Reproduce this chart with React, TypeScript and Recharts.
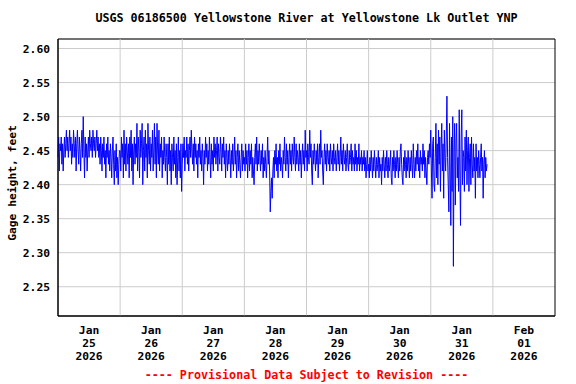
import {
  LineChart,
  Line,
  XAxis,
  YAxis,
  CartesianGrid,
  ReferenceLine,
  ReferenceArea,
} from "recharts";

// gage height, feet, read every 15 minutes from the plot
const jan25 = [
  2.44, 2.47, 2.42, 2.46, 2.45, 2.47, 2.43, 2.46, 2.42, 2.45, 2.47, 2.44,
  2.46, 2.48, 2.45, 2.47, 2.44, 2.46, 2.48, 2.45, 2.47, 2.43, 2.46, 2.44,
  2.48, 2.46, 2.44, 2.47, 2.42, 2.46, 2.48, 2.45, 2.43, 2.47, 2.45, 2.42,
  2.46, 2.48, 2.44, 2.5, 2.45, 2.41, 2.47, 2.44, 2.46, 2.42, 2.45, 2.47,
  2.44, 2.48, 2.46, 2.45, 2.47, 2.44, 2.48, 2.46, 2.45, 2.47, 2.44, 2.46,
  2.48, 2.45, 2.47, 2.44, 2.46, 2.43, 2.47, 2.45, 2.42, 2.46, 2.44, 2.47,
  2.43, 2.45, 2.41, 2.46, 2.44, 2.47, 2.43, 2.45, 2.42, 2.46, 2.44, 2.41,
  2.45, 2.47, 2.43, 2.4, 2.45, 2.42, 2.46, 2.41, 2.44, 2.4, 2.43, 2.45,
];
const jan26 = [
  2.45, 2.42, 2.47, 2.44, 2.46, 2.41, 2.48, 2.43, 2.46, 2.42, 2.47, 2.45,
  2.43, 2.46, 2.41, 2.47, 2.44, 2.48, 2.42, 2.46, 2.4, 2.45, 2.47, 2.43,
  2.46, 2.44, 2.49, 2.42, 2.47, 2.45, 2.41, 2.48, 2.44, 2.46, 2.49, 2.4,
  2.45, 2.47, 2.42, 2.48, 2.44, 2.46, 2.41, 2.49, 2.45, 2.43, 2.47, 2.42,
  2.46, 2.44, 2.48, 2.42, 2.45, 2.49, 2.43, 2.47, 2.41, 2.49, 2.45, 2.43,
  2.48, 2.42, 2.46, 2.44, 2.47, 2.41, 2.45, 2.43, 2.47, 2.44, 2.42, 2.46,
  2.44, 2.4, 2.46, 2.43, 2.47, 2.42, 2.45, 2.4, 2.46, 2.44, 2.42, 2.47,
  2.43, 2.45, 2.41, 2.46, 2.4, 2.44, 2.47, 2.42, 2.45, 2.41, 2.46, 2.39,
];
const jan27 = [
  2.43, 2.46, 2.44, 2.47, 2.42, 2.45, 2.44, 2.47, 2.43, 2.46, 2.42, 2.45,
  2.47, 2.44, 2.48, 2.45, 2.43, 2.46, 2.42, 2.47, 2.44, 2.46, 2.43, 2.45,
  2.41, 2.46, 2.44, 2.47, 2.43, 2.45, 2.42, 2.46, 2.44, 2.4, 2.45, 2.43,
  2.47, 2.44, 2.46, 2.42, 2.45, 2.43, 2.47, 2.44, 2.41, 2.46, 2.43, 2.45,
  2.42, 2.47, 2.44, 2.46, 2.43, 2.45, 2.47, 2.42, 2.46, 2.44, 2.43, 2.47,
  2.45, 2.42, 2.46, 2.44, 2.47, 2.43, 2.45, 2.41, 2.46, 2.44, 2.42, 2.45,
  2.43, 2.46, 2.44, 2.41, 2.45, 2.43, 2.46, 2.42, 2.44, 2.47, 2.43, 2.45,
  2.41, 2.44, 2.46, 2.42, 2.45, 2.43, 2.41, 2.44, 2.46, 2.42, 2.45, 2.43,
];
const jan28 = [
  2.44, 2.42, 2.46, 2.43, 2.45, 2.41, 2.44, 2.46, 2.42, 2.45, 2.43, 2.46,
  2.41, 2.44, 2.42, 2.4, 2.44, 2.46, 2.43, 2.47, 2.42, 2.45, 2.43, 2.46,
  2.44, 2.42, 2.45, 2.43, 2.46, 2.41, 2.44, 2.42, 2.45, 2.43, 2.41, 2.44,
  2.47, 2.43, 2.45, 2.42, 2.36, 2.39, 2.41, 2.38, 2.42, 2.44, 2.41, 2.45,
  2.43, 2.46, 2.42, 2.44, 2.41, 2.45, 2.43, 2.46, 2.42, 2.44, 2.43, 2.41,
  2.45, 2.43, 2.47, 2.44, 2.42, 2.46, 2.43, 2.45, 2.41, 2.44, 2.46, 2.43,
  2.45, 2.42, 2.46, 2.44, 2.43, 2.47, 2.44, 2.42, 2.46, 2.43, 2.45, 2.44,
  2.42, 2.46, 2.43, 2.45, 2.41, 2.44, 2.46, 2.43, 2.45, 2.42, 2.48, 2.44,
];
const jan29 = [
  2.45, 2.42, 2.46, 2.44, 2.43, 2.48, 2.44, 2.46, 2.42, 2.4, 2.45, 2.43,
  2.46, 2.44, 2.42, 2.45, 2.43, 2.46, 2.41, 2.44, 2.46, 2.43, 2.48, 2.44,
  2.45, 2.42, 2.4, 2.44, 2.46, 2.43, 2.45, 2.42, 2.46, 2.44, 2.43, 2.45,
  2.42, 2.46, 2.44, 2.43, 2.45, 2.42, 2.46, 2.44, 2.43, 2.45, 2.42, 2.44,
  2.46, 2.43, 2.45, 2.42, 2.44, 2.47, 2.43, 2.45, 2.42, 2.46, 2.44, 2.43,
  2.45, 2.42, 2.44, 2.46, 2.43, 2.42, 2.45, 2.43, 2.44, 2.46, 2.42, 2.45,
  2.43, 2.44, 2.42, 2.46, 2.43, 2.45, 2.42, 2.44, 2.43, 2.46, 2.42, 2.44,
  2.43, 2.45, 2.42, 2.44, 2.43, 2.45, 2.42, 2.44, 2.41, 2.43, 2.45, 2.42,
];
const jan30 = [
  2.43, 2.41, 2.44, 2.42, 2.45, 2.43, 2.41, 2.44, 2.42, 2.45, 2.43, 2.41,
  2.44, 2.42, 2.43, 2.45, 2.41, 2.44, 2.42, 2.43, 2.4, 2.44, 2.42, 2.45,
  2.43, 2.41, 2.44, 2.42, 2.45, 2.43, 2.41, 2.44, 2.42, 2.43, 2.45, 2.41,
  2.4, 2.44, 2.42, 2.45, 2.43, 2.41, 2.44, 2.42, 2.45, 2.43, 2.41, 2.44,
  2.42, 2.45, 2.46, 2.43, 2.41, 2.4, 2.44, 2.42, 2.45, 2.43, 2.41, 2.44,
  2.42, 2.45, 2.43, 2.41, 2.44, 2.42, 2.45, 2.43, 2.41, 2.46, 2.43, 2.41,
  2.44, 2.42, 2.45, 2.43, 2.46, 2.42, 2.44, 2.41, 2.45, 2.43, 2.44, 2.42,
  2.46, 2.43, 2.45, 2.41, 2.44, 2.42, 2.4, 2.44, 2.45, 2.43, 2.46, 2.44,
];
const jan31 = [
  2.48, 2.42, 2.38, 2.46, 2.47, 2.4, 2.39,
  2.44, 2.49, 2.41, 2.46, 2.4, 2.48, 2.43, 2.47, 2.39, 2.45, 2.49, 2.42,
  2.46, 2.38, 2.48, 2.44, 2.42,
  2.47, 2.53, 2.44, 2.4,
  2.36, 2.49, 2.42, 2.34, 2.47, 2.39, 2.5, 2.28, 2.45, 2.49,
  2.37, 2.46, 2.49, 2.41, 2.44, 2.39,
  2.51, 2.42, 2.34, 2.47, 2.51, 2.4, 2.45,
  2.44, 2.39, 2.47, 2.42, 2.48, 2.4, 2.45, 2.47, 2.39, 2.44, 2.46, 2.4,
  2.47, 2.43, 2.41, 2.46, 2.42,
  2.44, 2.38, 2.46, 2.42, 2.44, 2.41, 2.45, 2.43, 2.41, 2.44, 2.46, 2.42,
  2.44, 2.38, 2.43, 2.45, 2.41, 2.44, 2.42, 2.43,
];
const days = [jan25, jan26, jan27, jan28, jan29, jan30, jan31];

const tickMonths = ["Jan", "Jan", "Jan", "Jan", "Jan", "Jan", "Jan", "Feb"];
const tickDays = ["25", "26", "27", "28", "29", "30", "31", "01"];
const tickYears = ["2026", "2026", "2026", "2026", "2026", "2026", "2026", "2026"];
const yTicks = [2.25, 2.3, 2.35, 2.4, 2.45, 2.5, 2.55, 2.6];

// t is in days since Jan 25 00:00
const data = days.flatMap((vals, d) =>
  vals.map((v, i) => ({ t: d + i / 96, gage: v }))
);
const xTicks = tickDays.map((_, i) => i + 0.5);
const dayLines = [1, 2, 3, 4, 5, 6, 7];

const FONT = "'DejaVu Sans Mono', 'Liberation Mono', monospace";

// eslint-disable-next-line @typescript-eslint/no-explicit-any
const DateTick = ({ x, y, payload }: any) => {
  const i = Math.round(payload.value - 0.5);
  return (
    <text
      x={x}
      y={y}
      textAnchor="middle"
      fill="#000"
      fontFamily={FONT}
      fontWeight="bold"
      fontSize={11.3}
    >
      <tspan x={x} dy={10}>{tickMonths[i]}</tspan>
      <tspan x={x} dy={13}>{tickDays[i]}</tspan>
      <tspan x={x} dy={13}>{tickYears[i]}</tspan>
    </text>
  );
};

export default function App() {
  return (
    <div
      style={{
        position: "fixed",
        left: 0,
        top: 0,
        width: 576,
        height: 384,
        background: "#fff",
        fontFamily: FONT,
        fontWeight: "bold",
      }}
    >
      <div
        style={{
          position: "absolute",
          left: 58,
          width: 497,
          top: 11,
          textAlign: "center",
          fontSize: 11.7,
          color: "#000",
        }}
      >
        USGS 06186500 Yellowstone River at Yellowstone Lk Outlet YNP
      </div>
      <div
        style={{
          position: "absolute",
          left: 12,
          top: 183,
          transform: "translate(-50%, -50%) rotate(-90deg)",
          whiteSpace: "nowrap",
          fontSize: 11.3,
          color: "#000",
        }}
      >
        Gage height, feet
      </div>
      <LineChart
        width={576}
        height={384}
        data={data}
        margin={{ top: 39, right: 21, bottom: 18, left: 0 }}
      >
        <CartesianGrid vertical={false} stroke="#cccccc" />
        {dayLines.map((d) => (
          <ReferenceLine key={d} x={d} stroke="#cccccc" />
        ))}
        <XAxis
          dataKey="t"
          type="number"
          domain={[0, 8]}
          ticks={xTicks}
          tick={<DateTick />}
          tickLine={false}
          axisLine={{ stroke: "#000" }}
          height={50}
          interval={0}
        />
        <YAxis
          type="number"
          domain={[2.207, 2.614]}
          ticks={yTicks}
          allowDataOverflow
          width={58}
          tickLine={false}
          axisLine={{ stroke: "#000" }}
          tickFormatter={(v: number) => v.toFixed(2)}
          tick={{ fill: "#000", fontFamily: FONT, fontWeight: "bold", fontSize: 11.3 }}
        />
        <ReferenceArea
          x1={0}
          x2={8}
          y1={2.207}
          y2={2.614}
          stroke="#000"
          fill="none"
          fillOpacity={0}
        />
        <Line
          type="linear"
          dataKey="gage"
          stroke="#0000ff"
          strokeWidth={1}
          dot={false}
          isAnimationActive={false}
        />
      </LineChart>
      <div
        style={{
          position: "absolute",
          left: 58,
          width: 497,
          top: 368,
          textAlign: "center",
          fontSize: 11.7,
          color: "#ff0000",
        }}
      >
        ---- Provisional Data Subject to Revision ----
      </div>
    </div>
  );
}
